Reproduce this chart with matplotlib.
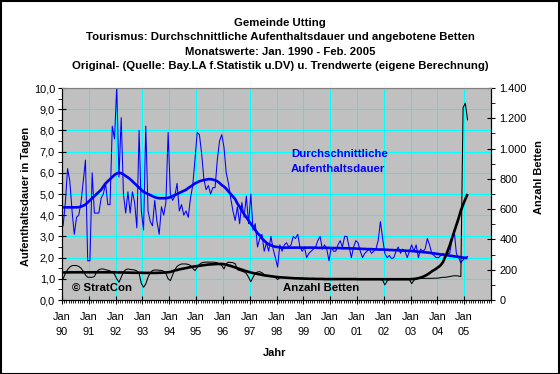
import matplotlib
matplotlib.use("Agg")
import matplotlib.pyplot as plt
from matplotlib.ticker import FixedLocator, MultipleLocator, FuncFormatter
from matplotlib.patches import Rectangle

plt.rcParams['font.family'] = ['Liberation Sans', 'DejaVu Sans']

# ---------------- data (monthly, Jan 1990 .. Feb 2005) ----------------
years = ["90", "91", "92", "93", "94", "95", "96", "97", "98", "99",
         "00", "01", "02", "03", "04", "05"]

stay = [
    3.5, 4.6, 6.2, 5.6, 4.2, 3.1, 3.9, 4.0, 4.6, 5.6, 6.6, 1.85,      # 1990
    1.85, 6.0, 4.1, 4.1, 4.1, 4.8, 5.0, 5.5, 4.5, 4.5, 8.2, 7.6,      # 1991
    10.1, 5.8, 8.6, 5.0, 4.1, 5.1, 4.1, 5.1, 4.6, 3.4, 8.0, 4.2,      # 1992
    3.3, 8.2, 4.2, 3.7, 3.5, 4.7, 3.7, 3.1, 4.4, 4.0, 4.6, 7.9,       # 1993
    5.0, 4.7, 4.9, 5.5, 4.2, 4.5, 4.0, 4.2, 3.9, 4.8, 5.4, 6.6,       # 1994
    7.9, 7.8, 6.9, 5.7, 5.2, 5.4, 5.0, 5.3, 5.3, 6.6, 7.5, 7.8,       # 1995
    7.2, 6.0, 5.5, 4.8, 4.2, 3.75, 4.4, 3.6, 4.6, 3.9, 4.9, 3.6,      # 1996
    5.0, 3.3, 3.6, 2.5, 2.9, 3.1, 2.3, 2.7, 2.3, 3.0, 2.4, 2.0,       # 1997
    1.55, 2.6, 2.3, 2.6, 2.7, 2.5, 2.6, 3.0, 2.9, 3.1, 2.5, 2.3,      # 1998
    2.5, 2.0, 2.2, 2.3, 2.4, 2.5, 2.8, 3.0, 2.4, 2.6, 2.4, 1.85,      # 1999
    2.5, 2.3, 2.3, 2.6, 2.8, 2.5, 3.0, 3.0, 2.5, 2.0, 2.5, 2.8,       # 2000
    2.7, 2.3, 2.0, 2.2, 2.3, 2.4, 2.2, 2.3, 2.4, 2.8, 3.7, 2.9,       # 2001
    2.2, 2.0, 2.1, 1.95, 2.0, 2.3, 2.5, 2.2, 2.4, 2.3, 2.0, 2.3,      # 2002
    2.6, 2.3, 2.6, 2.0, 2.4, 2.3, 2.4, 2.9, 2.6, 2.2, 2.1, 2.0,       # 2003
    2.0, 2.1, 2.2, 2.1, 2.2, 2.2, 2.8, 3.3, 2.2, 2.0, 1.75, 1.9,      # 2004
    2.0, 2.05,                                                        # 2005
]

stay_trend = [
    4.37, 4.37, 4.37, 4.37, 4.37, 4.37, 4.37, 4.38, 4.40, 4.45, 4.5, 4.6,
    4.7, 4.8, 4.9, 5.0, 5.1, 5.2, 5.35, 5.5, 5.6, 5.7, 5.8, 5.9,
    5.97, 6.0, 5.98, 5.93, 5.85, 5.78, 5.7, 5.6, 5.5, 5.4, 5.3, 5.2,
    5.1, 5.05, 5.0, 4.95, 4.9, 4.85, 4.82, 4.8, 4.8, 4.8, 4.8, 4.82,
    4.85, 4.9, 4.95, 5.0, 5.05, 5.1, 5.15, 5.2, 5.28, 5.35, 5.42, 5.5,
    5.55, 5.6, 5.63, 5.66, 5.68, 5.7, 5.7, 5.68, 5.65, 5.6, 5.52, 5.42,
    5.35, 5.25, 5.12, 5.0, 4.88, 4.76, 4.55, 4.4, 4.2, 4.05, 3.9, 3.75,
    3.6, 3.45, 3.3, 3.15, 3.05, 2.9, 2.8, 2.7, 2.63, 2.58, 2.54, 2.51,
    2.5, 2.48, 2.47, 2.47, 2.47, 2.47, 2.47, 2.47, 2.47, 2.47, 2.47, 2.47,
    2.47, 2.47, 2.47, 2.47, 2.47, 2.47, 2.46, 2.46, 2.46, 2.46, 2.46, 2.46,
    2.45, 2.45, 2.45, 2.45, 2.45, 2.44, 2.44, 2.44, 2.44, 2.43, 2.43, 2.43,
    2.42, 2.42, 2.41, 2.41, 2.40, 2.40, 2.40, 2.39, 2.39, 2.38, 2.38, 2.38,
    2.37, 2.37, 2.36, 2.36, 2.35, 2.35, 2.34, 2.34, 2.33, 2.33, 2.32, 2.32,
    2.31, 2.30, 2.29, 2.28, 2.27, 2.26, 2.25, 2.24, 2.23, 2.21, 2.20, 2.18,
    2.17, 2.15, 2.14, 2.12, 2.11, 2.09, 2.08, 2.06, 2.05, 2.03, 2.02, 2.00,
    1.99, 1.98,
]

beds = [
    140, 175, 200, 218, 227, 228, 227, 222, 210, 190, 165, 150,       # 1990
    150, 150, 155, 185, 200, 205, 205, 200, 196, 192, 185, 170,       # 1991
    140, 117, 150, 185, 200, 205, 202, 200, 198, 192, 175, 110,       # 1992
    84, 106, 150, 180, 195, 198, 198, 196, 195, 190, 175, 140,        # 1993
    128, 165, 200, 222, 232, 238, 238, 238, 235, 228, 210, 194,       # 1994
    215, 235, 245, 249, 250, 250, 250, 250, 249, 245, 238, 228,       # 1995
    205, 240, 250, 248, 246, 240, 200, 195, 190, 185, 175, 150,       # 1996
    121, 150, 176, 185, 187, 180, 168, 162, 160, 158, 156, 150,       # 1997
    135, 148, 150, 148, 147, 146, 146, 145, 145, 144, 143, 143,       # 1998
    142, 142, 141, 141, 141, 140, 140, 140, 140, 139, 139, 139,       # 1999
    138, 138, 138, 138, 138, 138, 138, 138, 138, 138, 138, 138,       # 2000
    137, 137, 137, 137, 137, 137, 137, 137, 137, 137, 135, 130,       # 2001
    100, 125, 138, 138, 138, 138, 138, 138, 138, 138, 138, 135,       # 2002
    108, 130, 140, 142, 143, 143, 143, 143, 143, 143, 144, 144,       # 2003
    145, 148, 150, 150, 152, 155, 158, 160, 160, 158, 155, 1270,      # 2004
    1300, 1190,                                                       # 2005
]

beds_trend = [
    181, 182, 182, 183, 183, 183, 183, 183, 183, 183, 183, 183,
    183, 183, 183, 183, 183, 183, 183, 183, 183, 183, 183, 183,
    183, 182, 182, 182, 181, 181, 181, 180, 180, 180, 180, 180,
    179, 179, 179, 179, 179, 179, 179, 180, 180, 181, 182, 183,
    185, 190, 195, 198, 202, 205, 208, 211, 214, 217, 220, 222,
    224, 226, 228, 230, 232, 234, 235, 236, 237, 238, 238, 238,
    236, 233, 229, 225, 220, 215, 210, 205, 200, 195, 190, 186,
    182, 178, 175, 172, 169, 166, 163, 161, 159, 157, 155, 153,
    151, 150, 149, 148, 147, 146, 145, 144, 143, 143, 142, 142,
    141, 141, 140, 140, 140, 139, 139, 139, 139, 138, 138, 138,
    138, 138, 138, 138, 138, 138, 138, 138, 138, 138, 138, 138,
    137, 137, 137, 137, 137, 137, 137, 137, 137, 137, 137, 137,
    137, 137, 137, 137, 137, 137, 137, 137, 137, 137, 137, 137,
    138, 139, 141, 144, 148, 153, 160, 168, 178, 189, 198, 207,
    218, 230, 250, 285, 320, 360, 405, 450, 495, 540, 590, 630,
    665, 700,
]

# ---------------- figure ----------------
W, H = 560, 374
fig = plt.figure(figsize=(W / 100, H / 100), dpi=100)
fig.patch.set_facecolor('white')

L, R, T, B = 62, 491, 88, 300
ax = fig.add_axes([L / W, 1 - B / H, (R - L) / W, (B - T) / H])
ax.set_facecolor('#C0C0C0')
ax2 = ax.twinx()

xs = [i + 0.5 for i in range(len(stay))]

ax.plot(xs, stay, color='#0000FF', lw=0.75, zorder=3)
ax.plot(xs, stay_trend, color='#0000FF', lw=1.9, zorder=4, solid_capstyle='butt')
ax2.plot(xs, beds, color='black', lw=0.75, zorder=3)
ax2.plot(xs, beds_trend, color='black', lw=1.9, zorder=4, solid_capstyle='butt')

ax.set_xlim(0, 192)
ax.set_ylim(0, 10)
ax2.set_ylim(0, 1400)

# grid
ax.set_axisbelow(True)
ax.xaxis.set_major_locator(FixedLocator([12 * k for k in range(16)]))
ax.xaxis.set_minor_locator(MultipleLocator(1))
ax.set_xticklabels([f"Jan\n{y}" for y in years], linespacing=1.6)
ax.yaxis.set_major_locator(MultipleLocator(1))
ax.yaxis.set_minor_locator(MultipleLocator(0.5))
ax.grid(True, which='major', color='#00FFFF', lw=0.75)
ax.yaxis.set_major_formatter(FuncFormatter(lambda v, p: f"{v:.1f}".replace('.', ',')))

ax2.yaxis.set_major_locator(MultipleLocator(200))
ax2.yaxis.set_minor_locator(MultipleLocator(100))
ax2.yaxis.set_major_formatter(FuncFormatter(lambda v, p: f"{v:,.0f}".replace(',', '.')))

tick_kw = dict(labelsize=7.9, colors='black')
ax.tick_params(axis='x', which='major', direction='inout', length=6, width=0.8, pad=5.5, **tick_kw)
ax.tick_params(axis='x', which='minor', direction='out', length=2, width=0.6)
ax.tick_params(axis='y', which='major', direction='inout', length=6, width=0.8, pad=2, **tick_kw)
ax.tick_params(axis='y', which='minor', direction='out', length=3, width=0.6)
ax2.tick_params(axis='y', which='major', direction='inout', length=6, width=0.8, pad=3, **tick_kw)
ax2.tick_params(axis='y', which='minor', direction='out', length=3, width=0.6)

for a in (ax, ax2):
    a.spines['top'].set_color('#808080')
    a.spines['top'].set_linewidth(0.8)
    for s in ('left', 'right', 'bottom'):
        a.spines[s].set_color('black')
        a.spines[s].set_linewidth(0.8)


def fx(x):
    return x / W


def fy(y):
    return 1 - y / H


# titles
titles = ["Gemeinde Utting",
          "Tourismus: Durchschnittliche Aufenthaltsdauer und angebotene Betten",
          "Monatswerte: Jan. 1990 - Feb. 2005",
          "Original- (Quelle: Bay.LA f.Statistik u.DV) u. Trendwerte (eigene Berechnung)"]
for i, t in enumerate(titles):
    fig.text(fx(280), fy(22.5 + 14.6 * i), t, ha='center', va='center',
             fontsize=8.2, fontweight='bold')

fig.text(fx(26), fy(196), "Aufenthaltsdauer in Tagen", rotation=90, ha='center',
         va='center', fontsize=7.9, fontweight='bold')
fig.text(fx(539), fy(177), "Anzahl Betten", rotation=90, ha='center',
         va='center', fontsize=7.9, fontweight='bold')
fig.text(fx(275), fy(353), "Jahr", ha='center', va='center', fontsize=7.9,
         fontweight='bold')

fig.text(fx(72), fy(288), "© StratCon", ha='left', va='center', fontsize=8.2,
         fontweight='bold')
fig.text(fx(283), fy(288), "Anzahl Betten", ha='left', va='center', fontsize=8.2,
         fontweight='bold')
fig.text(fx(291), fy(154), "Durchschnittliche", ha='left', va='center',
         fontsize=8.2, fontweight='bold', color='#0000FF')
fig.text(fx(291), fy(169.5), "Aufenthaltsdauer", ha='left', va='center',
         fontsize=8.2, fontweight='bold', color='#0000FF')

# outer frame
fig.patches.append(Rectangle((0.5 / W, 0.5 / H), 1 - 1.5 / W, 1 - 1.5 / H,
                             transform=fig.transFigure, fill=False,
                             edgecolor='black', lw=1.5))

fig.savefig("out.png", dpi=100)
